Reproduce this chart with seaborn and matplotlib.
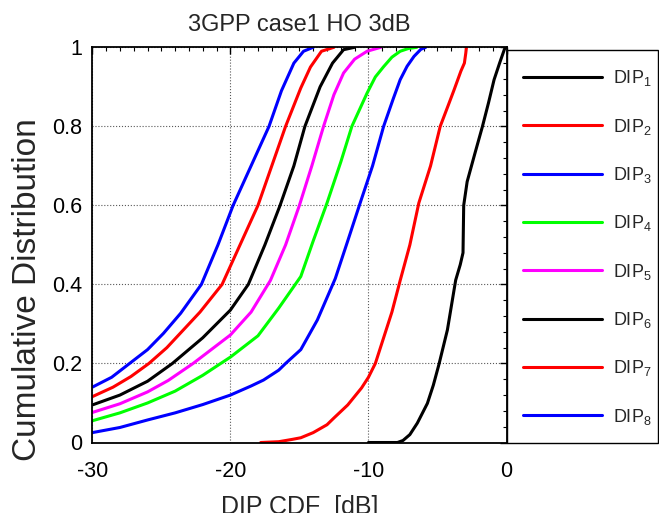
import matplotlib
matplotlib.use("Agg")
import matplotlib.pyplot as plt
import seaborn as sns
import pandas as pd
from matplotlib.patches import Rectangle
from matplotlib.lines import Line2D
from matplotlib.ticker import MultipleLocator, FixedLocator

# ---------------- data ----------------
series_labels = ["DIP$_{1}$", "DIP$_{2}$", "DIP$_{3}$", "DIP$_{4}$",
                 "DIP$_{5}$", "DIP$_{6}$", "DIP$_{7}$", "DIP$_{8}$"]
series_colors = ["#000000", "#ff0000", "#0000ff", "#00ff00",
                 "#ff00ff", "#000000", "#ff0000", "#0000ff"]

dip1_x = [-10.0, -7.9, -7.5, -7.0, -6.46, -5.73, -5.3, -4.89, -4.28, -3.68, -3.35, -3.15, -3.1,
          -2.85, -2.3, -1.74, -1.3, -0.9, -0.5, -0.15, -0.05]
dip1_y = [0.0, 0.0, 0.005, 0.02, 0.049, 0.099, 0.145, 0.198, 0.285, 0.411, 0.45, 0.48, 0.60,
          0.66, 0.73, 0.80, 0.86, 0.918, 0.96, 0.995, 1.0]

dip2_x = [-17.8, -16.5, -15.5, -14.9, -14.0, -13.0, -12.5, -11.5, -10.5, -10.0, -9.5, -8.9, -8.3,
          -7.7, -7.0, -6.35, -5.5, -4.8, -4.2, -3.8, -3.3, -3.05, -2.95, -2.9]
dip2_y = [0.0, 0.002, 0.008, 0.012, 0.025, 0.045, 0.062, 0.095, 0.138, 0.165, 0.2, 0.265, 0.33,
          0.41, 0.5, 0.606, 0.7, 0.8, 0.855, 0.892, 0.94, 0.96, 0.985, 1.0]

dip3_x = [-30.0, -28.0, -26.0, -24.0, -22.0, -20.0, -18.5, -17.6, -16.5, -16.0, -14.9, -13.7,
          -12.4, -11.5, -10.6, -9.7, -8.9, -8.2, -7.7, -7.2, -6.7, -6.2, -5.85]
dip3_y = [0.025, 0.038, 0.057, 0.075, 0.096, 0.12, 0.143, 0.158, 0.183, 0.2, 0.235, 0.31,
          0.415, 0.51, 0.606, 0.70, 0.80, 0.87, 0.918, 0.952, 0.977, 0.995, 1.0]

dip4_x = [-30.0, -28.0, -26.0, -24.0, -22.0, -20.7, -20.0, -18.0, -16.5, -14.9, -14.0, -13.0,
          -12.0, -11.2, -10.1, -9.5, -8.9, -8.3, -7.7, -7.1, -6.5]
dip4_y = [0.055, 0.075, 0.1, 0.13, 0.17, 0.2, 0.216, 0.27, 0.34, 0.42, 0.51, 0.606,
          0.71, 0.8, 0.884, 0.925, 0.951, 0.975, 0.99, 0.997, 1.0]

dip5_x = [-30.0, -28.0, -26.0, -24.5, -22.7, -20.0, -18.5, -17.1, -16.0, -15.0, -14.1, -13.25,
          -12.5, -11.8, -11.0, -10.1, -9.1]
dip5_y = [0.076, 0.098, 0.128, 0.157, 0.2, 0.272, 0.33, 0.41, 0.5, 0.6, 0.7, 0.8,
          0.88, 0.935, 0.97, 0.99, 1.0]

dip6_x = [-30.0, -28.0, -26.0, -24.2, -22.0, -20.0, -18.7, -17.5, -16.4, -15.4, -14.6, -13.5,
          -12.6, -11.8, -11.0]
dip6_y = [0.095, 0.12, 0.155, 0.2, 0.265, 0.335, 0.4, 0.5, 0.6, 0.7, 0.8, 0.9,
          0.96, 0.994, 1.0]

dip7_x = [-30.0, -28.5, -27.2, -25.9, -24.6, -23.4, -22.2, -20.6, -19.3, -18.0, -17.0, -16.0,
          -14.9, -14.2, -13.4, -12.5]
dip7_y = [0.116, 0.14, 0.167, 0.2, 0.24, 0.285, 0.33, 0.40, 0.50, 0.60, 0.70, 0.80,
          0.897, 0.95, 0.99, 1.0]

dip8_x = [-30.0, -28.6, -27.3, -26.0, -24.85, -23.6, -22.1, -20.9, -19.8, -18.5, -17.2, -16.3,
          -15.4, -14.7, -14.0]
dip8_y = [0.14, 0.165, 0.2, 0.235, 0.276, 0.327, 0.40, 0.50, 0.60, 0.70, 0.80, 0.89,
          0.96, 0.99, 1.0]

xtick_values = [-30, -20, -10, 0]
xtick_labels = ["-30", "-20", "-10", "0"]
ytick_values = [0, 0.2, 0.4, 0.6, 0.8, 1.0]
ytick_labels = ["0", "0.2", "0.4", "0.6", "0.8", "1"]

title_text = "3GPP case1 HO 3dB"
xlabel_text = "DIP CDF  [dB]"
ylabel_text = "Cumulative Distribution"

# ---------------- build long table ----------------
all_x = [dip1_x, dip2_x, dip3_x, dip4_x, dip5_x, dip6_x, dip7_x, dip8_x]
all_y = [dip1_y, dip2_y, dip3_y, dip4_y, dip5_y, dip6_y, dip7_y, dip8_y]
rows = []
for name, xs, ys in zip(series_labels, all_x, all_y):
    for xv, yv in zip(xs, ys):
        rows.append({"series": name, "x": xv, "y": yv})
df = pd.DataFrame(rows)

# ---------------- style ----------------
sns.set_style("white")
plt.rcParams["font.family"] = ["Liberation Sans", "DejaVu Sans"]
plt.rcParams["mathtext.fontset"] = "custom"
plt.rcParams["mathtext.rm"] = "Liberation Sans"
plt.rcParams["mathtext.it"] = "Liberation Sans"
plt.rcParams["mathtext.bf"] = "Liberation Sans"
plt.rcParams["axes.unicode_minus"] = False

W, H = 659, 513
fig = plt.figure(figsize=(W / 100, H / 100), dpi=100)
fig.patch.set_facecolor("white")
ax_w_px = 506.5 - 92.3
ax_h_px = 442.5 - 47.3
ax = fig.add_axes([92.3 / W, 70.5 / H, ax_w_px / W, ax_h_px / H])

sns.lineplot(data=df, x="x", y="y", hue="series", palette=series_colors,
             hue_order=series_labels, sort=False, estimator=None,
             linewidth=2.2, legend=False, ax=ax)

ax.set_xlim(-30, 0)
ax.set_ylim(0, 1)
ax.xaxis.set_major_locator(FixedLocator(xtick_values))
ax.set_xticklabels(xtick_labels)
ax.yaxis.set_major_locator(FixedLocator(ytick_values))
ax.set_yticklabels(ytick_labels)
ax.xaxis.set_minor_locator(MultipleLocator(1))
ax.yaxis.set_minor_locator(MultipleLocator(0.04))
ax.tick_params(which="both", direction="in", top=True, right=True, colors="black")
ax.tick_params(which="major", length=5, width=1.0, labelsize=15.5)
ax.tick_params(which="minor", length=3, width=0.8)
ax.tick_params(axis="x", which="major", pad=13.5)
ax.tick_params(axis="y", which="major", pad=7)

ax.grid(True, which="major", color="0.35", linestyle=":", linewidth=0.8)
for sp in ax.spines.values():
    sp.set_visible(True)
    sp.set_color("black")
    sp.set_linewidth(1.3)

ax.set_title(title_text, fontsize=17, pad=12)
ax.set_xlabel(xlabel_text, fontsize=18, labelpad=9.5)
ax.set_ylabel(ylabel_text, fontsize=24)
ax.yaxis.set_label_coords((43 - 92.3) / ax_w_px, (442.5 - 290) / ax_h_px)

# legend box
fig.patches.append(Rectangle((507 / W, 70 / H), 151 / W, 393 / H, transform=fig.transFigure,
                             fill=False, edgecolor="black", linewidth=1.0))
handles = [Line2D([], [], color=c, linewidth=2.2) for c in series_colors]
fig.legend(handles, series_labels, loc="center left",
           bbox_to_anchor=(523 / W, 1 - 247.5 / H), bbox_transform=fig.transFigure,
           frameon=False, fontsize=13, borderpad=0, borderaxespad=0,
           handlelength=4.4, handletextpad=0.6, labelspacing=1.57)

fig.savefig("out.png", dpi=100)
